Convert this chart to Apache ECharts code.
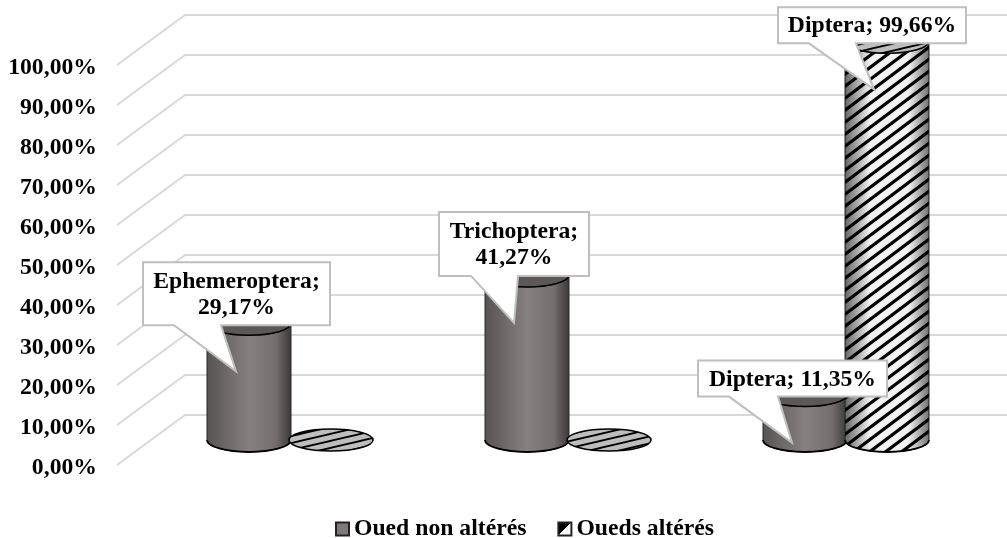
<!DOCTYPE html>
<html>
<head>
<meta charset="utf-8">
<style>
  html, body { margin: 0; height: 100%; background: #fff; }
  #chart { width: 1007px; height: 538px; }
</style>
<script src="https://cdn.jsdelivr.net/npm/echarts@6/dist/echarts.min.js"></script>
</head>
<body>
<div id="chart"></div>
<script>
const categories = ["Ephemeroptera", "Trichoptera", "Diptera"];
const ouedNonAlteres = [29.17, 41.27, 11.35];
const ouedsAlteres = [0, 0, 99.66];
const yTicks = [0, 10, 20, 30, 40, 50, 60, 70, 80, 90, 100];

const FONT = "Liberation Serif";
const depth = [68, -50];     // front plane -> back wall
const rx = 42, ry = 12;      // cylinder ellipse
const barShift = [-41, 41];  // series offset inside a category

// callouts: [series, category, left, right, top, bottom, baseL, baseR, wrapped]
const callouts = [
  [0, 0, -106, 81, -61, 2, -75, -28, true],
  [0, 1, -88, 62, -63, 1, -56, -9, true],
  [0, 2, -107, 82, -34, 2, -76, -27, false],
  [1, 2, -109, 79, -34, 2, -78, -31, false]
];

function stripes(w, h, lw, bg) {
  const c = document.createElement("canvas");
  c.width = w;
  c.height = h;
  const g = c.getContext("2d");
  g.fillStyle = bg;
  g.fillRect(0, 0, w, h);
  g.strokeStyle = "#000";
  g.lineWidth = lw;
  [-1, 0, 1].forEach(i => {
    g.beginPath();
    g.moveTo(i * w - w, 2 * h);
    g.lineTo(i * w + 2 * w, -h);
    g.stroke();
  });
  return { image: c, repeat: "repeat" };
}
const hatch = stripes(16, 12, 3.2, "#fff");
const flatHatch = stripes(30, 7, 1.8, "#bdbdbd");

const bodyGrey = new echarts.graphic.LinearGradient(0, 0, 1, 0, [
  { offset: 0, color: "#575353" },
  { offset: 0.5, color: "#878080" },
  { offset: 0.82, color: "#736d6d" },
  { offset: 1, color: "#3a3737" }
]);
const edgeShade = new echarts.graphic.LinearGradient(0, 0, 1, 0, [
  { offset: 0, color: "rgba(0,0,0,0.6)" },
  { offset: 0.3, color: "rgba(0,0,0,0.05)" },
  { offset: 0.75, color: "rgba(0,0,0,0.05)" },
  { offset: 1, color: "rgba(0,0,0,0.55)" }
]);

function cylinderPath(cx, top, bottom) {
  const l = cx - rx, r = cx + rx;
  return `M${l} ${top}L${l} ${bottom}A${rx} ${ry} 0 0 0 ${r} ${bottom}L${r} ${top}A${rx} ${ry} 0 0 1 ${l} ${top}Z`;
}

function frontArc(cx, y) {
  return `M${cx - rx} ${y}A${rx} ${ry} 0 0 0 ${cx + rx} ${y}`;
}

function renderCylinder(seriesIdx) {
  return function (params, api) {
    const p0 = api.coord([api.value(0), 0]);
    const p1 = api.coord([api.value(0), api.value(1)]);
    const cx = p0[0] + depth[0] / 2 + barShift[seriesIdx];
    const bottom = p0[1] + depth[1] / 2;
    const top = p1[1] + depth[1] / 2;
    if (api.value(1) === 0) {
      return {
        type: "ellipse",
        shape: { cx: cx, cy: bottom, rx: rx, ry: ry - 1 },
        style: { fill: flatHatch, stroke: "#000", lineWidth: 1.5 }
      };
    }
    const children = [];
    const d = cylinderPath(cx, top, bottom);
    if (seriesIdx === 0) {
      children.push({ type: "path", shape: { pathData: d }, style: { fill: bodyGrey, stroke: "#2b2929", lineWidth: 1 } });
    } else {
      children.push({ type: "path", shape: { pathData: d }, style: { fill: hatch, stroke: "#2b2929", lineWidth: 1 } });
      children.push({ type: "path", shape: { pathData: d }, style: { fill: edgeShade } });
    }
    children.push({
      type: "ellipse",
      shape: { cx: cx, cy: top, rx: rx, ry: ry },
      style: { fill: seriesIdx === 0 ? "#5d5858" : flatHatch }
    });
    children.push({ type: "path", shape: { pathData: frontArc(cx, top) }, style: { fill: "none", stroke: "#000", lineWidth: 1.5 } });
    children.push({ type: "path", shape: { pathData: frontArc(cx, bottom) }, style: { fill: "none", stroke: "#000", lineWidth: 1.8 } });
    return { type: "group", children: children };
  };
}

function renderWall(params, api) {
  const y = api.coord([0, api.value(0)])[1];
  const x0 = params.coordSys.x;
  const x1 = x0 + params.coordSys.width + depth[0];
  return {
    type: "polyline",
    shape: { points: [[x0, y], [x0 + depth[0], y + depth[1]], [x1, y + depth[1]]] },
    style: { fill: "none", stroke: "#d9d9d9", lineWidth: 2 }
  };
}

function pct(v) {
  return v.toFixed(2).replace(".", ",") + "%";
}

function renderCallout(params, api) {
  const c = callouts[params.dataIndex];
  const values = c[0] === 0 ? ouedNonAlteres : ouedsAlteres;
  const p = api.coord([c[1], values[c[1]]]);
  const ax = p[0] + depth[0] / 2 + barShift[c[0]];
  const ay = p[1] + depth[1] / 2;
  const [l, r, t, b, bl, br] = [c[2], c[3], c[4], c[5], c[6], c[7]];
  const text = categories[c[1]] + ";" + (c[8] ? "\n" : " ") + pct(values[c[1]]);
  return {
    type: "group",
    x: ax,
    y: ay,
    children: [
      {
        type: "polygon",
        shape: { points: [[l, t], [r, t], [r, b], [br, b], [-13, 48], [bl, b], [l, b]] },
        style: { fill: "#fff", stroke: "#bfbfbf", lineWidth: 2 }
      },
      {
        type: "text",
        style: {
          text: text,
          x: (l + r) / 2,
          y: (t + b) / 2 + 1,
          align: "center",
          verticalAlign: "middle",
          fontFamily: FONT,
          fontWeight: "bold",
          fontSize: 23.7,
          lineHeight: 26,
          fill: "#000"
        }
      }
    ]
  };
}

const chart = echarts.init(document.getElementById("chart"));
chart.setOption({
  animation: false,
  backgroundColor: "#fff",
  grid: { left: 117, top: 65, width: 834, height: 400 },
  xAxis: {
    type: "category",
    data: categories,
    axisLine: { show: false },
    axisTick: { show: false },
    axisLabel: { show: false }
  },
  yAxis: {
    type: "value",
    min: 0,
    max: 100,
    interval: 10,
    splitLine: { show: false },
    axisLine: { show: false },
    axisTick: { show: false },
    axisLabel: {
      margin: 20,
      fontFamily: FONT,
      fontWeight: "bold",
      fontSize: 23.7,
      color: "#000",
      formatter: v => "{t|" + pct(v) + "}",
      rich: {
        t: {
          fontFamily: FONT,
          fontWeight: "bold",
          fontSize: 23.7,
          color: "#000",
          padding: [5, 0, 0, 0]
        }
      }
    }
  },
  legend: {
    left: 330,
    top: 512,
    itemWidth: 13,
    itemHeight: 13,
    itemGap: 31,
    textStyle: { fontFamily: FONT, fontWeight: "bold", fontSize: 23.7, color: "#000" },
    data: [
      { name: "Oued non altérés", icon: "rect", itemStyle: { color: "#7f7878", borderColor: "#222", borderWidth: 2 } },
      {
        name: "Oueds altérés",
        icon: "rect",
        itemStyle: {
          color: new echarts.graphic.LinearGradient(0, 0, 1, 1, [
            { offset: 0, color: "#000" },
            { offset: 0.5, color: "#000" },
            { offset: 0.5, color: "#fff" },
            { offset: 1, color: "#fff" }
          ]),
          borderColor: "#222",
          borderWidth: 2
        }
      }
    ]
  },
  series: [
    {
      type: "custom",
      name: "wall",
      silent: true,
      z: 1,
      renderItem: renderWall,
      encode: { y: 0 },
      data: yTicks.map(v => [v])
    },
    {
      type: "custom",
      name: "Oued non altérés",
      z: 2,
      renderItem: renderCylinder(0),
      encode: { x: 0, y: 1 },
      data: ouedNonAlteres.map((v, i) => [i, v])
    },
    {
      type: "custom",
      name: "Oueds altérés",
      z: 3,
      renderItem: renderCylinder(1),
      encode: { x: 0, y: 1 },
      data: ouedsAlteres.map((v, i) => [i, v])
    },
    {
      type: "custom",
      name: "callouts",
      silent: true,
      z: 4,
      renderItem: renderCallout,
      encode: { x: 0, y: 1 },
      data: callouts.map(c => [c[1], (c[0] === 0 ? ouedNonAlteres : ouedsAlteres)[c[1]]])
    }
  ]
});
</script>
</body>
</html>
